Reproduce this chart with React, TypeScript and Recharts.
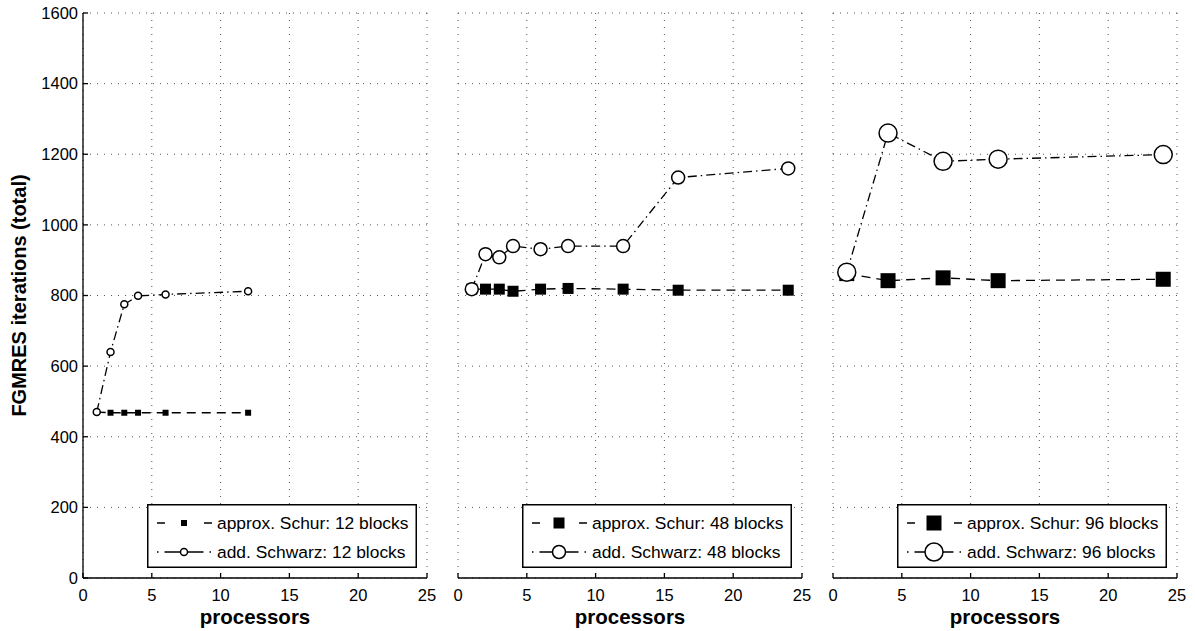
import { LineChart, Line, XAxis, YAxis, CartesianGrid } from 'recharts';

// processors used in each run
const procs12 = [1, 2, 3, 4, 6, 12];
const procs48 = [1, 2, 3, 4, 6, 8, 12, 16, 24];
const procs96 = [1, 4, 8, 12, 24];

// total FGMRES iterations
const schur12 = [470, 468, 468, 468, 468, 468];
const schwarz12 = [470, 640, 775, 799, 803, 812];
const schur48 = [818, 818, 818, 812, 818, 820, 818, 815, 815];
const schwarz48 = [818, 917, 908, 940, 931, 940, 940, 1134, 1160];
const schur96 = [862, 842, 850, 842, 846];
const schwarz96 = [866, 1260, 1180, 1186, 1199];

const blockCounts = [12, 48, 96];

const xTicks = [0, 5, 10, 15, 20, 25];
const yTicks = [0, 200, 400, 600, 800, 1000, 1200, 1400, 1600];

const FONT = '"Liberation Sans", Arial, Helvetica, sans-serif';
const SCHUR_DASH = '9 6';
const SCHWARZ_DASH = '9 4 1.5 4';

const PLOT_W = 344;
const PLOT_TOP = 13;
const AXIS_H = 53;
const CHART_H = 631;

const toRows = (procs: number[], schur: number[], schwarz: number[]) =>
    procs.map((p, i) => ({ p, schur: schur[i], schwarz: schwarz[i] }));

const squareDot = (size: number) => (props: any) => {
    const { cx, cy, index } = props;
    if (cx == null || cy == null) return <g key={`sq-${index}`} />;
    return <rect key={`sq-${index}`} x={cx - size / 2} y={cy - size / 2} width={size} height={size} fill="#000" />;
};

const circleDot = (r: number) => (props: any) => {
    const { cx, cy, index } = props;
    if (cx == null || cy == null) return <g key={`ci-${index}`} />;
    return <circle key={`ci-${index}`} cx={cx} cy={cy} r={r} fill="#fff" stroke="#000" strokeWidth={1.5} />;
};

type PanelProps = {
    plotLeft: number;
    rows: { p: number; schur: number; schwarz: number }[];
    blocks: number;
    sq: number;
    r: number;
    first: boolean;
};

function Panel({ plotLeft, rows, blocks, sq, r, first }: PanelProps) {
    const padL = first ? 83 : 15;
    const padR = 14;
    const width = padL + PLOT_W + padR;
    const tickStyle = { fill: '#000', fontSize: 16.5, fontFamily: FONT };
    const hidden = { fill: 'none', fontSize: 1 };

    return (
        <div style={{ position: 'absolute', left: plotLeft - padL, top: 0 }}>
            <LineChart
                width={width}
                height={CHART_H}
                data={rows}
                margin={{ top: PLOT_TOP, right: padR, bottom: 0, left: first ? 0 : padL }}
            >
                <CartesianGrid stroke="#555" strokeDasharray="1 6" />
                <XAxis
                    dataKey="p"
                    type="number"
                    domain={[0, 25]}
                    ticks={xTicks}
                    height={AXIS_H}
                    tickSize={-5}
                    tickMargin={16}
                    tick={tickStyle}
                    stroke="#000"
                    strokeWidth={1.3}
                    label={{
                        value: 'processors',
                        position: 'insideBottom',
                        offset: 7,
                        style: { fontSize: 20.5, fontWeight: 'bold', fill: '#000', fontFamily: FONT },
                    }}
                />
                <XAxis
                    xAxisId="t"
                    orientation="top"
                    type="number"
                    domain={[0, 25]}
                    ticks={xTicks}
                    height={0}
                    tickSize={-5}
                    tick={hidden}
                    stroke="#000"
                    strokeWidth={1.3}
                />
                <YAxis
                    type="number"
                    domain={[0, 1600]}
                    ticks={yTicks}
                    width={first ? 83 : 0}
                    tickSize={-5}
                    tickMargin={10}
                    tick={first ? tickStyle : hidden}
                    stroke="#000"
                    strokeWidth={1.3}
                    label={
                        first
                            ? {
                                  value: 'FGMRES iterations (total)',
                                  angle: -90,
                                  position: 'insideLeft',
                                  offset: 19,
                                  style: { textAnchor: 'middle', fontSize: 20, fontWeight: 'bold', fill: '#000', fontFamily: FONT },
                              }
                            : undefined
                    }
                />
                <YAxis
                    yAxisId="r"
                    orientation="right"
                    type="number"
                    domain={[0, 1600]}
                    ticks={yTicks}
                    width={0}
                    tickSize={-5}
                    tick={hidden}
                    stroke="#000"
                    strokeWidth={1.3}
                />
                <Line
                    type="linear"
                    dataKey="schur"
                    stroke="#000"
                    strokeWidth={1.3}
                    strokeDasharray={SCHUR_DASH}
                    dot={squareDot(sq)}
                    activeDot={false}
                    isAnimationActive={false}
                />
                <Line
                    type="linear"
                    dataKey="schwarz"
                    stroke="#000"
                    strokeWidth={1.3}
                    strokeDasharray={SCHWARZ_DASH}
                    dot={circleDot(r)}
                    activeDot={false}
                    isAnimationActive={false}
                />
            </LineChart>
            <LegendBox left={padL + 64} blocks={blocks} sq={sq} r={r} />
        </div>
    );
}

function LegendBox({ left, blocks, sq, r }: { left: number; blocks: number; sq: number; r: number }) {
    const w = 270;
    const h = 64;
    const mid = 37;
    return (
        <svg
            width={w}
            height={h}
            style={{ position: 'absolute', left, top: 503.5, overflow: 'visible' }}
        >
            <rect x={0.75} y={0.75} width={w - 1.5} height={h - 1.5} fill="#fff" stroke="#000" strokeWidth={1.5} />
            <line x1={10} y1={19} x2={65} y2={19} stroke="#000" strokeWidth={1.3} strokeDasharray="8 39 8" />
            <rect x={mid - sq / 2} y={19 - sq / 2} width={sq} height={sq} fill="#000" />
            <text x={70} y={19} dominantBaseline="central" fontSize={17.4} fontFamily={FONT} fill="#000">
                {`approx. Schur: ${blocks} blocks`}
            </text>
            <line x1={10} y1={48} x2={65} y2={48} stroke="#000" strokeWidth={1.3} strokeDasharray="1.5 6 39 6 1.5" />
            <circle cx={mid} cy={48} r={r} fill="#fff" stroke="#000" strokeWidth={1.5} />
            <text x={70} y={48} dominantBaseline="central" fontSize={17.4} fontFamily={FONT} fill="#000">
                {`add. Schwarz: ${blocks} blocks`}
            </text>
        </svg>
    );
}

export default function App() {
    return (
        <div style={{ position: 'absolute', left: 0, top: 0, width: 1195, height: 631, background: '#fff' }}>
            <Panel plotLeft={83} rows={toRows(procs12, schur12, schwarz12)} blocks={blockCounts[0]} sq={6} r={3.5} first />
            <Panel plotLeft={458} rows={toRows(procs48, schur48, schwarz48)} blocks={blockCounts[1]} sq={11} r={6.5} first={false} />
            <Panel plotLeft={832.5} rows={toRows(procs96, schur96, schwarz96)} blocks={blockCounts[2]} sq={15} r={9} first={false} />
        </div>
    );
}
